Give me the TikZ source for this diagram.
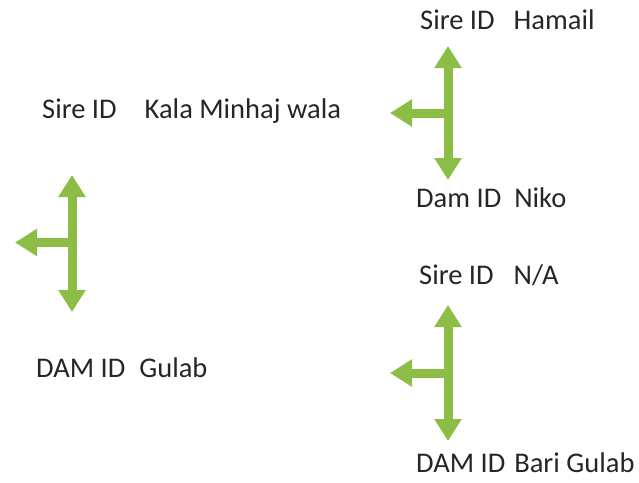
\documentclass[tikz,border=0pt]{standalone}
\usepackage{fontspec}
\setmainfont{Carlito}
\usepackage{xcolor}
\usetikzlibrary{arrows.meta}
\definecolor{leafgreen}{RGB}{140,189,68}
\tikzset{
  idtext/.style={anchor=base west, inner sep=0pt, text=black!85,
    font=\fontsize{28.5}{31}\selectfont},
  branch/.style={leafgreen, line width=9pt, -{Triangle[width=26pt,length=22pt]}},
  twoway/.style={leafgreen, line width=9pt,
    {Triangle[width=26pt,length=22pt]}-{Triangle[width=26pt,length=22pt]}}
}

\begin{document}
\begin{tikzpicture}[x=1pt, y=-1pt]
\useasboundingbox (0,0) rectangle (639,482);
% labels
\node[idtext] (sire) at (42,118) {Sire ID\hspace{28pt}Kala Minhaj wala};
\node[idtext] (dam) at (36,377) {DAM ID\hspace{14pt}Gulab};
\node[idtext] (siresire) at (420,29) {Sire ID\hspace{19pt}Hamail};
\node[idtext] (siredam) at (416,207) {Dam ID\hspace{13pt}Niko};
\node[idtext] (damsire) at (419,284) {Sire ID\hspace{20pt}N/A};
\node[idtext] (damdam) at (416,472) {DAM ID\hspace{9pt}Bari Gulab};
% branches
\coordinate (uptop) at (448,46);
\coordinate (upbot) at (448,180);
\coordinate (upjoin) at (448,113);
\coordinate (uptip) at (390,113);
\coordinate (midtop) at (72,175);
\coordinate (midbot) at (72,312);
\coordinate (midjoin) at (72,242.5);
\coordinate (midtip) at (15,242.5);
\coordinate (lowtop) at (448,305);
\coordinate (lowbot) at (448,441);
\coordinate (lowjoin) at (448,373);
\coordinate (lowtip) at (390,373);
\draw[twoway] (uptop) -- (upbot);
\draw[branch] (upjoin) -- (uptip);
\draw[twoway] (midtop) -- (midbot);
\draw[branch] (midjoin) -- (midtip);
\draw[twoway] (lowtop) -- (lowbot);
\draw[branch] (lowjoin) -- (lowtip);
\end{tikzpicture}
\end{document}
